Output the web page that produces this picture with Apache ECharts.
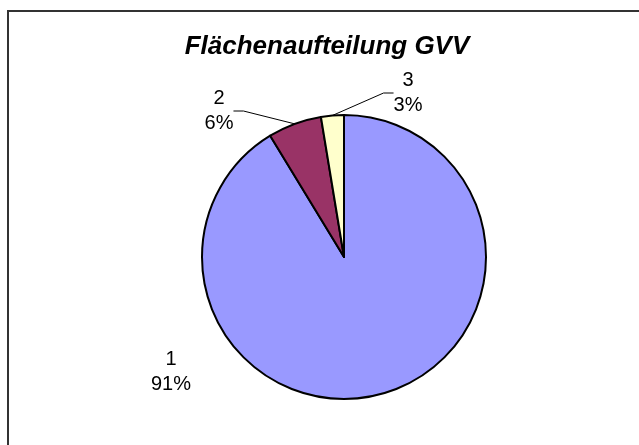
<!DOCTYPE html>
<html>
<head>
    <meta charset="utf-8">
    <title>Flächenaufteilung GVV</title>
    <script src="https://cdn.jsdelivr.net/npm/echarts@6/dist/echarts.min.js"></script>
    <style>
        html, body { margin: 0; padding: 0; background: #fff; }
        #main { width: 639px; height: 445px; }
    </style>
</head>
<body>
<div id="main"></div>
<script>
    // Daten
    var categories = ['1', '2', '3'];
    var values = [91.3, 6.1, 2.6];
    var colors = ['#9999ff', '#993366', '#ffffcc'];
    // Beschriftungspositionen (Mitte des Textblocks)
    var labelPos = [[171, 372], [219, 111], [408, 93]];

    var myChart = echarts.init(document.getElementById('main'));

    var data = categories.map(function (c, i) {
        return {
            name: c,
            value: values[i],
            itemStyle: { color: colors[i] },
            labelLine: { show: i !== 0 }
        };
    });

    var option = {
        animation: false,
        title: {
            text: 'Flächenaufteilung GVV',
            left: 322,
            textAlign: 'center',
            top: 29,
            textStyle: {
                fontFamily: 'Liberation Sans, Arial, sans-serif',
                fontSize: 26,
                fontWeight: 'bold',
                fontStyle: 'italic',
                color: '#000'
            }
        },
        graphic: [{
            type: 'rect',
            shape: { x: 8, y: 11, width: 700, height: 500 },
            style: { fill: 'none', stroke: '#333', lineWidth: 2 },
            silent: true
        }],
        series: [{
            type: 'pie',
            center: [344, 257],
            radius: 142,
            startAngle: 90,
            clockwise: true,
            data: data,
            itemStyle: { borderColor: '#000', borderWidth: 2 },
            label: {
                show: true,
                position: 'outside',
                fontFamily: 'Liberation Sans, Arial, sans-serif',
                fontSize: 20,
                lineHeight: 25,
                color: '#000',
                align: 'center',
                formatter: function (p) {
                    return p.name + '\n' + Math.round(p.percent) + '%';
                }
            },
            labelLine: {
                show: true,
                length: 8,
                length2: 10,
                lineStyle: { color: '#000', width: 1 }
            },
            labelLayout: function (params) {
                var pos = labelPos[params.dataIndex];
                return { x: pos[0], y: pos[1], align: 'center', verticalAlign: 'middle' };
            },
            emphasis: { disabled: true }
        }]
    };

    myChart.setOption(option);
</script>
</body>
</html>
